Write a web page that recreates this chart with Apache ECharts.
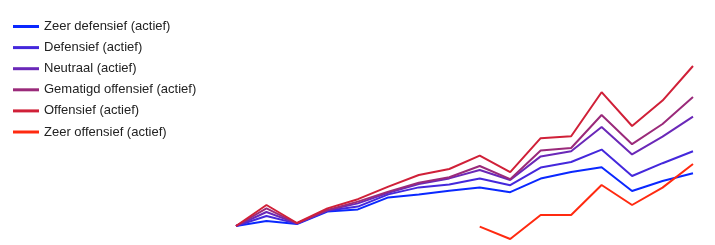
<!DOCTYPE html>
<html>
<head>
<meta charset="utf-8">
<script src="https://cdn.jsdelivr.net/npm/echarts@6/dist/echarts.min.js"></script>
<style>html,body{margin:0;padding:0;background:#fff}#c{width:715px;height:245px}</style>
</head>
<body>
<div id="c"></div>
<script>
var categories = ['1','2','3','4','5','6','7','8','9','10','11','12','13','14','15','16'];
var seriesNames = ['Zeer defensief (actief)','Defensief (actief)','Neutraal (actief)','Gematigd offensief (actief)','Offensief (actief)','Zeer offensief (actief)'];
var seriesColors = ['#0a28ff','#4428dc','#6a28b8','#9a2a7a','#d02038','#ff2a10'];
// values
var zeerDefensief = [7, 9.5, 8, 14.2, 15.3, 21.3, 22.8, 24.6, 26.2, 23.9, 30.7, 34, 36.4, 24.5, 29.5, 33.4];
var defensief = [7, 12, 8.2, 14.6, 16.7, 22.8, 26.3, 27.8, 30.8, 27.4, 36.2, 39, 45.2, 32, 38.4, 44.4];
var neutraal = [7, 14, 8.3, 14.8, 18.3, 23.6, 28, 30.8, 35, 30, 41.8, 44.4, 56.5, 42.8, 51.7, 61.7];
var gematigdOffensief = [7, 15.8, 8.3, 15, 19.2, 24.2, 28.6, 31.4, 37, 30.4, 44.7, 46, 62.5, 47.9, 58, 71.5];
var offensief = [7, 17.5, 8.5, 15.8, 20.4, 26.7, 32.5, 35.5, 42.2, 33.9, 50.9, 51.9, 73.9, 57, 69.7, 87];
var zeerOffensief = [null, null, null, null, null, null, null, null, 6.7, 0.5, 12.5, 12.5, 27.5, 17.5, 26.2, 38];
var allValues = [zeerDefensief, defensief, neutraal, gematigdOffensief, offensief, zeerOffensief];

var chart = echarts.init(document.getElementById('c'), null, {renderer: 'canvas'});
chart.setOption({
  animation: false,
  color: seriesColors,
  legend: {
    orient: 'vertical', left: 8, top: 15,
    icon: 'rect', itemWidth: 26, itemHeight: 3, itemGap: 8.1,
    textStyle: {fontFamily: 'Liberation Sans, Arial, sans-serif', fontSize: 13, color: '#222', lineHeight: 13},
    data: seriesNames
  },
  grid: {left: 236, right: 22, top: 40, bottom: 5, containLabel: false},
  xAxis: {type: 'category', data: categories, boundaryGap: false, show: false},
  yAxis: {type: 'value', min: 0, max: 100, show: false, splitLine: {show: false}},
  series: seriesNames.map(function (n, i) {
    return {name: n, type: 'line', data: allValues[i], symbol: 'none', showSymbol: false,
      lineStyle: {width: 2, color: seriesColors[i]}, itemStyle: {color: seriesColors[i]}, connectNulls: false};
  })
});
</script>
</body>
</html>
